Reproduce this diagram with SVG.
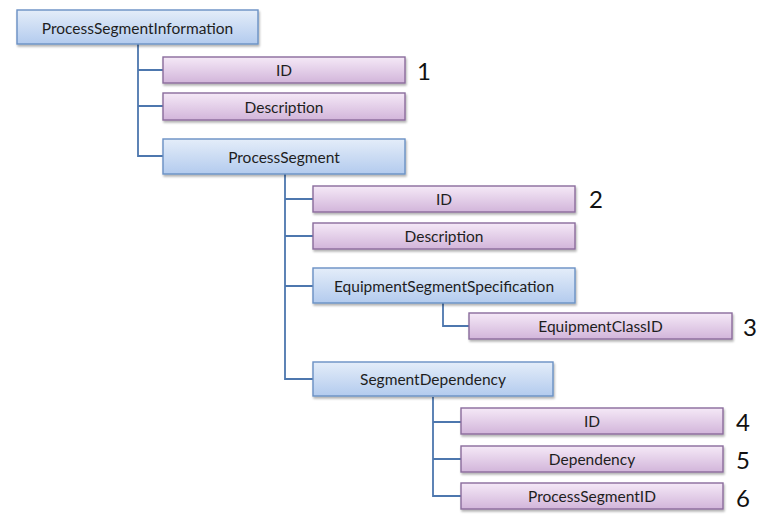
<svg xmlns="http://www.w3.org/2000/svg" width="766" height="523" viewBox="0 0 766 523">
<defs>
<linearGradient id="gb" x1="0" y1="0" x2="0" y2="1">
<stop offset="0" stop-color="#e4edf9"/>
<stop offset="1" stop-color="#b3cbee"/>
</linearGradient>
<linearGradient id="gp" x1="0" y1="0" x2="0" y2="1">
<stop offset="0" stop-color="#f5e9f7"/>
<stop offset="1" stop-color="#d2b5da"/>
</linearGradient>
<filter id="sh" x="-5%" y="-20%" width="110%" height="150%">
<feDropShadow dx="1" dy="2" stdDeviation="1.2" flood-color="#000" flood-opacity="0.3"/>
</filter>
</defs>
<style>
.b rect{fill:url(#gb);stroke:#6a90c4;stroke-width:1.4;filter:url(#sh)}
.p rect{fill:url(#gp);stroke:#8a6c9c;stroke-width:1.4;filter:url(#sh)}
text{font-family:Lato,"Open Sans","Liberation Sans",sans-serif;font-size:15.5px;fill:#1e1e1e;text-anchor:middle;dominant-baseline:central}
.n{font-size:24px;text-anchor:start;fill:#111}
#connectors path{fill:none;stroke:#4d77ae;stroke-width:1.8}
</style>
<rect width="766" height="523" fill="#fff"/>
<g id="connectors">
<path d="M138 44V156H163M138 70H163M138 106H163"/>
<path d="M285 174V379H313M285 199H313M285 236H313M285 286H313"/>
<path d="M443 303V326H469"/>
<path d="M433 397V496H461M433 422H461M433 459H461"/>
</g>
<g id="psi" class="b"><rect x="17" y="10" width="241" height="34"/><text x="137.5" y="27.5">ProcessSegmentInformation</text></g>
<g id="psi-id" class="p"><rect x="163" y="57" width="242" height="26"/><text x="284" y="70">ID</text></g>
<g id="psi-desc" class="p"><rect x="163" y="93" width="242" height="27"/><text x="284" y="106.5">Description</text></g>
<g id="ps" class="b"><rect x="163" y="139" width="242" height="35"/><text x="284" y="156.5">ProcessSegment</text></g>
<g id="ps-id" class="p"><rect x="313" y="186" width="262" height="26"/><text x="444" y="199">ID</text></g>
<g id="ps-desc" class="p"><rect x="313" y="223" width="262" height="26"/><text x="444" y="236">Description</text></g>
<g id="ess" class="b"><rect x="313" y="268" width="262" height="35"/><text x="444" y="285.5">EquipmentSegmentSpecification</text></g>
<g id="ecid" class="p"><rect x="469" y="313" width="263" height="26"/><text x="600.5" y="326">EquipmentClassID</text></g>
<g id="sd" class="b"><rect x="313" y="362" width="240" height="34"/><text x="433" y="379">SegmentDependency</text></g>
<g id="sd-id" class="p"><rect x="461" y="408" width="262" height="26"/><text x="592" y="421">ID</text></g>
<g id="sd-dep" class="p"><rect x="461" y="446" width="262" height="26"/><text x="592" y="459">Dependency</text></g>
<g id="sd-psid" class="p"><rect x="461" y="483" width="262" height="26"/><text x="592" y="496">ProcessSegmentID</text></g>
<g id="labels">
<text class="n" x="417" y="70">1</text>
<text class="n" x="589" y="198">2</text>
<text class="n" x="743" y="326">3</text>
<text class="n" x="736" y="421">4</text>
<text class="n" x="736" y="459">5</text>
<text class="n" x="736" y="497">6</text>
</g>
</svg>
